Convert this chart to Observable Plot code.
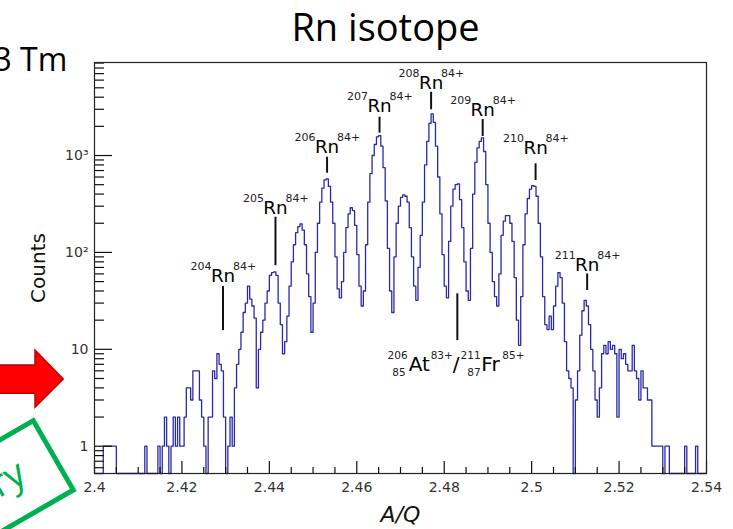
<!DOCTYPE html>
<html><head><meta charset="utf-8">
<script src="https://cdn.jsdelivr.net/npm/d3@7"></script>
<script src="https://cdn.jsdelivr.net/npm/@observablehq/plot@0.6"></script>
<style>
body{margin:0;background:#fff;}
#wrap{position:relative;width:733px;height:529px;overflow:hidden;background:#fff;}
#deco{position:absolute;left:0;top:0;pointer-events:none;}
</style></head><body>
<div id="wrap"><div id="chart"></div>
<svg id="deco" width="733" height="529">
  <polygon points="-5,365 35,365 35,350 63.3,379 35,407.3 35,393.3 -5,393.3" fill="#ff0000" stroke="#c00000" stroke-width="1.5"/>
  <g transform="translate(33.3,420.7) rotate(-30)">
    <rect x="-300" y="0" width="300" height="80" fill="none" stroke="#00b050" stroke-width="5"/>
    <text x="-34" y="50" text-anchor="end" font-family="Open Sans" font-size="38" fill="#00b050">Preliminary</text>
  </g>
</svg>
</div>
<script>
// histogram binning
const binStart = 2.4;
const binWidth = 0.0005;
// counts per bin (A/Q from 2.400 to 2.540)
const counts = [
  0,0,0,0,1,1,1,1,1,1,
  0,0,0,0,0,0,0,0,0,0,
  0,0,0,1,0,0,0,0,0,1,
  0,1,2,1,0,1,2,1,2,1,
  1,2,4,4,3,6,6,6,3,2,
  1,0,2,2,6,5,9,7,6,2,
  0,1,2,1,4,7,10,15,24,30,
  45,33,28,21,4,10,15,20,30,40,
  58,62,63,58,30,18,9,12,22,45,
  80,120,160,185,197,170,120,60,35,15,
  30,100,200,330,460,560,575,480,330,200,
  90,42,34,50,100,180,250,289,270,190,
  95,45,28,40,120,330,650,1000,1300,1560,
  1608,1250,750,340,110,40,24,90,200,300,
  370,393,380,330,180,90,45,32,70,150,
  330,800,1400,2150,2693,2200,1250,600,250,95,
  45,34,130,300,450,500,510,350,180,80,
  40,32,110,400,850,1200,1400,1523,1100,500,
  200,100,50,35,28,60,150,210,240,240,
  200,130,55,20,11,35,120,250,360,450,
  490,480,380,200,90,35,18,16,22,16,
  28,45,62,55,30,12,6,5,4,0,
  3,6,14,25,32,28,18,10,6,3,
  2,4,9,11,9,12,10,11,9,2,
  10,8,9,7,6,6,11,6,5,3,
  6,4,4,3,3,1,1,1,1,1,
  0,1,1,0,0,0,0,0,0,0,
  1,0,0,0,0,1,0,0,0,0
];
const xDomain = [2.4, 2.54];
const yDomain = [0.523, 9120];
const xTicks = [2.4, 2.42, 2.44, 2.46, 2.48, 2.5, 2.52, 2.54];
const xTickLabels = ["2.4", "2.42", "2.44", "2.46", "2.48", "2.5", "2.52", "2.54"];
const yTicks = [1, 10, 100, 1000];
const yTickLabels = ["1", "10", "10\u00B2", "10\u00B3"];

// isotope annotations
const isoMass = ["204", "205", "206", "207", "208", "209", "210", "211"];
const isoCharge = ["84+", "84+", "84+", "84+", "84+", "84+", "84+", "84+"];
const isoX = [2.4294, 2.4414, 2.4532, 2.4652, 2.4770, 2.4888, 2.5009, 2.5127];
const isoLineTop = [44.5, 231, 960, 2484, 4500, 2354, 821, 60];
const isoLineBottom = [15.6, 73, 657, 1700, 2965, 1570, 552, 40.5];
const isoLabelY = [49.2, 250, 1066, 2799, 4879, 2588, 1042, 65];
const atFrX = 2.4830, atFrTop = 37.4, atFrBottom = 12.3;

const title = "Rn isotope";
const cornerText = "3 Tm";
const xLabel = "A/Q";
const yLabel = "Counts";

// build table
const hist = counts.map((c, i) => ({x: binStart + i * binWidth, y: c}));
hist.push({x: binStart + counts.length * binWidth, y: counts[counts.length - 1]});
const iso = isoMass.map((m, i) => ({mass: m, charge: isoCharge[i], x: isoX[i], top: isoLineTop[i], bottom: isoLineBottom[i], ly: isoLabelY[i]}));
const atFr = [{x: atFrX, top: atFrTop, bottom: atFrBottom}];

const xMinor = d3.range(0, 29).map(i => +(2.4 + i * 0.005).toFixed(3)).filter(v => !xTicks.some(t => Math.abs(t - v) < 1e-9));
const yMinor = [];
[0.1, 1, 10, 100, 1000].forEach(dec => { for (let k = 2; k <= 9; k++) { const v = +(k * dec).toFixed(3); if (v > yDomain[0] && v < yDomain[1]) yMinor.push(v); } });

const W = 733, H = 529, mL = 94, mR = 27, mT = 62, mB = 56;
const fw = W - mL - mR, fh = H - mT - mB;
const txt = "#222";

const piece = (t, opts) => Plot.text(atFr, {x: "x", y: "bottom", text: () => t, lineAnchor: "bottom", fill: txt, ...opts});

const chart = Plot.plot({
  width: W, height: H,
  marginLeft: mL, marginRight: mR, marginTop: mT, marginBottom: mB,
  style: {fontFamily: "DejaVu Sans", fontSize: "14px", background: "#fff", overflow: "visible"},
  x: {domain: xDomain, label: null},
  y: {type: "log", domain: yDomain, clamp: true, label: null},
  marks: [
    Plot.line(hist, {x: "x", y: d => Math.max(d.y, 0.3), curve: "step-after", stroke: "#2a2aa8", strokeWidth: 1.3}),
    // axes ticks (inward, ROOT style)
    Plot.tickX(xTicks, {x: d => d, insetTop: fh - 12, stroke: "#111", strokeWidth: 1.2}),
    Plot.tickX(xMinor, {x: d => d, insetTop: fh - 6, stroke: "#111", strokeWidth: 1.2}),
    Plot.tickY(yTicks, {y: d => d, insetRight: fw - 18, stroke: "#111", strokeWidth: 1.2}),
    Plot.tickY(yMinor, {y: d => d, insetRight: fw - 10, stroke: "#111", strokeWidth: 1.2}),
    Plot.axisX(xTicks, {tickSize: 0, tickPadding: 9, tickFormat: d => xTickLabels[xTicks.indexOf(d)], fontSize: 14, fill: "#333", label: null}),
    Plot.axisY(yTicks, {tickSize: 0, tickPadding: 6, tickFormat: d => yTickLabels[yTicks.indexOf(d)], fontSize: 14, fill: "#333", label: null}),
    Plot.frame({stroke: "#222", strokeWidth: 1.2}),
    // axis titles
    Plot.text([xLabel], {frameAnchor: "bottom", text: d => d, dy: 48, textAnchor: "middle", lineAnchor: "bottom", fontSize: 22, fontStyle: "italic", fill: "#111"}),
    Plot.text([yLabel], {frameAnchor: "left", text: d => d, dx: -50, rotate: -90, textAnchor: "middle", lineAnchor: "bottom", fontSize: 20, fill: "#111"}),
    // title & corner text
    Plot.text([title], {frameAnchor: "top", text: d => d, dx: -15, dy: -22, textAnchor: "middle", lineAnchor: "bottom", fontSize: 38, fontFamily: "Open Sans", fill: "#000"}),
    Plot.text([cornerText], {frameAnchor: "top-left", text: d => d, dx: -101, dy: 8, textAnchor: "start", lineAnchor: "bottom", fontSize: 32, fontFamily: "Open Sans", fill: "#000"}),
    // isotope markers
    Plot.ruleX(iso, {x: "x", y1: "bottom", y2: "top", stroke: "#111", strokeWidth: 2}),
    Plot.text(iso, {x: "x", y: "ly", text: () => "Rn", lineAnchor: "bottom", fontSize: 18.3, fill: "#000"}),
    Plot.text(iso, {x: "x", y: "ly", text: "mass", textAnchor: "end", lineAnchor: "bottom", dx: -11.5, dy: -12, fontSize: 11, fill: txt}),
    Plot.text(iso, {x: "x", y: "ly", text: "charge", textAnchor: "start", lineAnchor: "bottom", dx: 10, dy: -12, fontSize: 11, fill: txt}),
    Plot.ruleX(atFr, {x: "x", y1: "bottom", y2: "top", stroke: "#111", strokeWidth: 2}),
    piece("At", {textAnchor: "start", dx: -48.7, dy: 30, fontSize: 20, fill: "#000"}),
    piece("206", {textAnchor: "end", dx: -49.7, dy: 18, fontSize: 10.5}),
    piece("85", {textAnchor: "end", dx: -51.7, dy: 35, fontSize: 10.5}),
    piece("83+", {textAnchor: "start", dx: -26.7, dy: 18, fontSize: 10.5}),
    piece("/", {textAnchor: "start", dx: -4.7, dy: 30, fontSize: 20, fill: "#000"}),
    piece("211", {textAnchor: "end", dx: 23.3, dy: 18, fontSize: 10.5}),
    piece("87", {textAnchor: "end", dx: 23.3, dy: 35, fontSize: 10.5}),
    piece("Fr", {textAnchor: "start", dx: 24, dy: 30, fontSize: 20, fill: "#000"}),
    piece("85+", {textAnchor: "start", dx: 45, dy: 18, fontSize: 10.5})
  ]
});
document.getElementById("chart").appendChild(chart);
</script>
</body></html>
